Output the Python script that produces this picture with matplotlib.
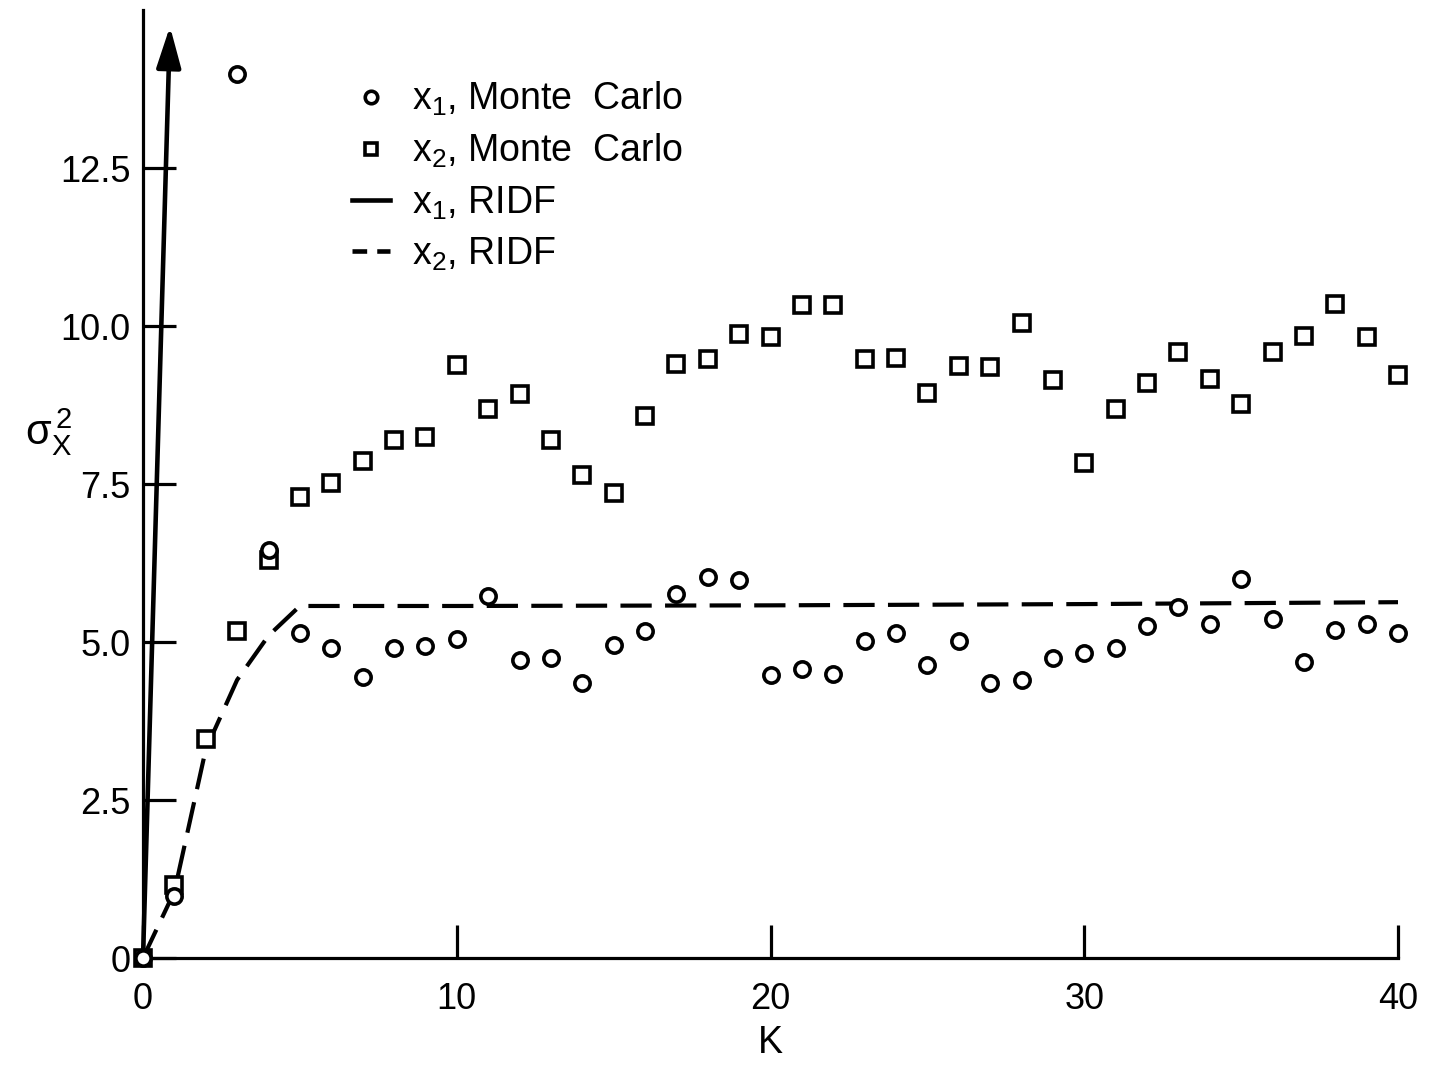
import matplotlib
matplotlib.use("Agg")
import matplotlib.pyplot as plt
from matplotlib.lines import Line2D

plt.rcParams['font.family'] = ['Liberation Sans', 'DejaVu Sans']
plt.rcParams['mathtext.fontset'] = 'custom'
plt.rcParams['mathtext.rm'] = 'Liberation Sans'
plt.rcParams['mathtext.it'] = 'Liberation Sans'
plt.rcParams['mathtext.default'] = 'regular'

# ---- data ----
k_mc = list(range(0, 41))
x1_mc = [0.0, 0.98, None, 13.98, 6.45, 5.14, 4.90, 4.45, 4.90, 4.93,
         5.04, 5.72, 4.71, 4.74, 4.35, 4.96, 5.17, 5.76, 6.03, 5.98,
         4.47, 4.58, 4.50, 5.02, 5.15, 4.63, 5.01, 4.35, 4.40, 4.74,
         4.83, 4.90, 5.25, 5.56, 5.29, 6.00, 5.37, 4.69, 5.19, 5.28,
         5.15]
x2_mc = [0.0, 1.16, 3.46, 5.18, 6.30, 7.30, 7.52, 7.87, 8.20, 8.25,
         9.38, 8.69, 8.93, 8.20, 7.65, 7.36, 8.58, 9.40, 9.48, 9.87,
         9.83, 10.33, 10.33, 9.48, 9.49, 8.94, 9.37, 9.35, 10.05, 9.15,
         7.84, 8.69, 9.10, 9.59, 9.16, 8.77, 9.59, 9.84, 10.35, 9.83,
         9.23]
ridf1_k = [0.0, 0.86]
ridf1_v = [0.0, 14.74]
ridf2_k = [0, 1, 2, 3, 4, 5, 10, 20, 30, 40]
ridf2_v = [0.0, 1.05, 3.3, 4.4, 5.1, 5.57, 5.57, 5.58, 5.60, 5.63]

xticks = [0, 10, 20, 30, 40]
xticklabels = ['0', '10', '20', '30', '40']
yticks = [0, 2.5, 5.0, 7.5, 10.0, 12.5]
yticklabels = ['0', '2.5', '5.0', '7.5', '10.0', '12.5']

labels = [r'$x_1$, Monte  Carlo', r'$x_2$, Monte  Carlo', r'$x_1$, RIDF', r'$x_2$, RIDF']

# ---- figure ----
W, H = 1434, 1065
fig = plt.figure(figsize=(W / 100, H / 100), dpi=100)
ax = fig.add_axes([143 / W, 107 / H, (1398 - 143) / W, (1055 - 107) / H])
ax.set_xlim(0, 40)
ax.set_ylim(0, 15)

for s in ['top', 'right']:
    ax.spines[s].set_visible(False)
for s in ['left', 'bottom']:
    ax.spines[s].set_linewidth(2.3)

mk = dict(linestyle='none', markerfacecolor='white', markeredgecolor='black',
          markeredgewidth=2.6, markersize=11, clip_on=False, zorder=5)
k1 = [k for k, v in zip(k_mc, x1_mc) if v is not None]
v1 = [v for v in x1_mc if v is not None]
ax.plot(k_mc, x2_mc, marker='s', **mk)
ax.plot(k1, v1, marker='o', **mk)

ax.plot(ridf2_k, ridf2_v, color='black', lw=3, dashes=(7.5, 3.2), zorder=3)
ax.annotate('', xy=(ridf1_k[-1], ridf1_v[-1]), xytext=(ridf1_k[0], ridf1_v[0]),
            arrowprops=dict(arrowstyle='-|>,head_length=1.0,head_width=0.3',
                            lw=3.3, color='black', mutation_scale=25,
                            shrinkA=0, shrinkB=0), zorder=4)

ax.set_xticks(xticks)
ax.set_xticklabels(xticklabels)
ax.set_yticks(yticks)
ax.set_yticklabels(yticklabels)
ax.tick_params(axis='both', direction='in', length=24, width=2.3, labelsize=26)
ax.tick_params(axis='x', pad=17)
ax.tick_params(axis='y', pad=9)

ax.set_xlabel('K', fontsize=27, labelpad=6)
ax.set_ylabel(r'$\sigma_X^{\,2}$', fontsize=30, rotation=0, va='center', ha='center')
ax.yaxis.set_label_coords(-0.075, 0.555)

handles = [
    Line2D([], [], marker='o', linestyle='none', markerfacecolor='white',
           markeredgecolor='black', markeredgewidth=2.6, markersize=9),
    Line2D([], [], marker='s', linestyle='none', markerfacecolor='white',
           markeredgecolor='black', markeredgewidth=2.6, markersize=9),
    Line2D([], [], color='black', lw=3.3),
    Line2D([], [], color='black', lw=3.3, dashes=(3.2, 2.2)),
]
leg = ax.legend(handles, labels, loc='upper left', frameon=False, fontsize=27,
                bbox_to_anchor=(352 / W, (H - 80) / H), bbox_transform=fig.transFigure,
                handlelength=1.0, handletextpad=0.6, labelspacing=0.37,
                borderpad=0, borderaxespad=0)

fig.savefig('out.png', dpi=100)
